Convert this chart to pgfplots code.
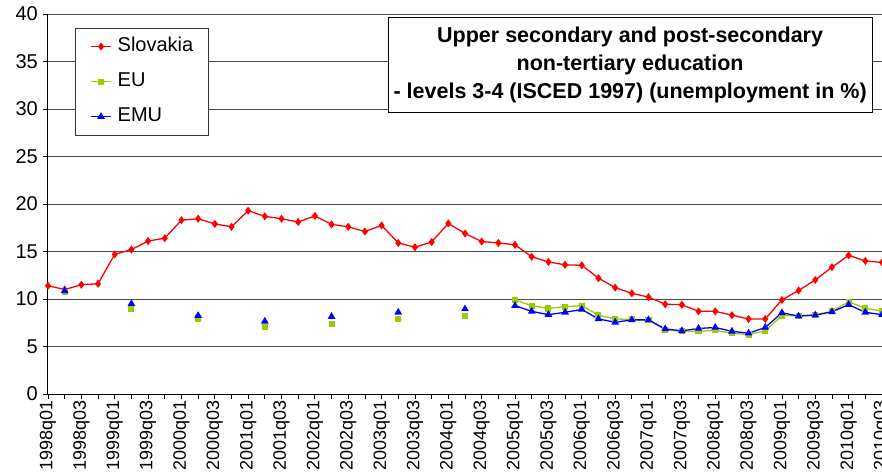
\documentclass[border=0pt]{standalone}
\usepackage{fontspec}
\setmainfont{Liberation Sans}
\usepackage{pgfplots}
\pgfplotsset{compat=1.18}
\definecolor{skred}{HTML}{FF0000}
\definecolor{eugreen}{HTML}{99CC00}
\definecolor{emublue}{HTML}{0000FF}
\begin{document}
\begin{tikzpicture}
\begin{axis}[
  scale only axis, width=834pt, height=380pt,
  xmin=0, xmax=50, ymin=0, ymax=40,
  axis x line*=bottom, axis y line*=left,
  axis line style={black, line width=1pt, -},
  xtick={0,2,...,50},
  xticklabels={1998q01,1998q03,1999q01,1999q03,2000q01,2000q03,2001q01,2001q03,2002q01,2002q03,2003q01,2003q03,2004q01,2004q03,2005q01,2005q03,2006q01,2006q03,2007q01,2007q03,2008q01,2008q03,2009q01,2009q03,2010q01,2010q03},
  minor xtick={1,3,...,49},
  ytick={0,5,...,40},
  ymajorgrids, major grid style={black!70, line width=0.9pt},
  tick align=outside, major tick length=5pt, minor tick length=5pt,
  every tick/.style={black, line width=0.8pt},
  /pgf/number format/assume math mode=true,
  yticklabel style={font=\fontsize{20}{24}\selectfont, inner sep=5pt},
  xticklabel style={font=\fontsize{18}{22}\selectfont, rotate=90, anchor=east, inner sep=1pt},
  legend style={at={(0.0324,0.964)}, anchor=north west, draw=black!80, line width=0.8pt,
    fill=white, font=\fontsize{20}{24}\selectfont, inner xsep=15pt, inner ysep=9pt,
    row sep=16pt, column sep=6pt,
    nodes={inner sep=0pt, text height=14pt, text depth=5pt}},
  legend cell align=left,
  legend image code/.code={\draw[mark repeat=2,mark phase=2] plot coordinates {(0pt,0pt) (10pt,0pt) (20pt,0pt)};},
  unbounded coords=jump,
]
\addplot[skred, line width=1.3pt, mark=diamond*, mark size=3pt, mark options={fill=skred, draw=skred}] coordinates {
(0,11.4) (1,11.0) (2,11.5) (3,11.6) (4,14.7) (5,15.2) (6,16.1) (7,16.4) (8,18.3) (9,18.45)
(10,17.9) (11,17.6) (12,19.3) (13,18.7) (14,18.45) (15,18.1) (16,18.75) (17,17.85) (18,17.6) (19,17.1)
(20,17.75) (21,15.9) (22,15.45) (23,16.0) (24,17.95) (25,16.9) (26,16.05) (27,15.9) (28,15.7) (29,14.45)
(30,13.9) (31,13.6) (32,13.55) (33,12.2) (34,11.2) (35,10.6) (36,10.2) (37,9.45) (38,9.4) (39,8.7)
(40,8.7) (41,8.3) (42,7.9) (43,7.9) (44,9.9) (45,10.9) (46,12.0) (47,13.35) (48,14.6) (49,14.0) (50,13.85)};
\addlegendentry{Slovakia}
\addplot[eugreen, line width=1.3pt, mark=square*, mark size=2.4pt, mark options={fill=eugreen, draw=eugreen}] coordinates {
(1,10.7) (2,nan) (5,9.0) (6,nan) (9,7.95) (10,nan) (13,7.05) (14,nan) (17,7.4) (18,nan) (21,7.9) (22,nan) (25,8.2) (26,nan)
(28,9.9) (29,9.3) (30,9.0) (31,9.2) (32,9.3) (33,8.3) (34,7.9) (35,7.85) (36,7.8) (37,6.75) (38,6.6) (39,6.6)
(40,6.7) (41,6.4) (42,6.25) (43,6.65) (44,8.25) (45,8.25) (46,8.35) (47,8.7) (48,9.7) (49,9.0) (50,8.75)};
\addlegendentry{EU}
\addplot[emublue, line width=1.3pt, mark=triangle*, mark size=3.2pt, mark options={fill=emublue, draw=emublue}] coordinates {
(1,10.85) (2,nan) (5,9.5) (6,nan) (9,8.25) (10,nan) (13,7.65) (14,nan) (17,8.15) (18,nan) (21,8.6) (22,nan) (25,8.95) (26,nan)
(28,9.3) (29,8.7) (30,8.35) (31,8.6) (32,8.9) (33,7.9) (34,7.55) (35,7.8) (36,7.8) (37,6.85) (38,6.65) (39,6.9)
(40,7.0) (41,6.6) (42,6.4) (43,7.0) (44,8.55) (45,8.2) (46,8.3) (47,8.65) (48,9.4) (49,8.6) (50,8.35)};
\addlegendentry{EMU}
\node[draw=black, line width=0.8pt, fill=white, anchor=north, minimum width=484pt, minimum height=95pt,
  inner xsep=2pt, align=center, font=\bfseries\fontsize{21.5}{28}\selectfont]
  at (rel axis cs:0.698,0.991) {Upper secondary and post-secondary\\non-tertiary education\\- levels 3-4 (ISCED 1997) (unemployment in \%)};
\end{axis}
\pgfresetboundingbox
\path[use as bounding box] (-48pt,-79pt) rectangle (834pt,394pt);
\end{tikzpicture}
\end{document}
